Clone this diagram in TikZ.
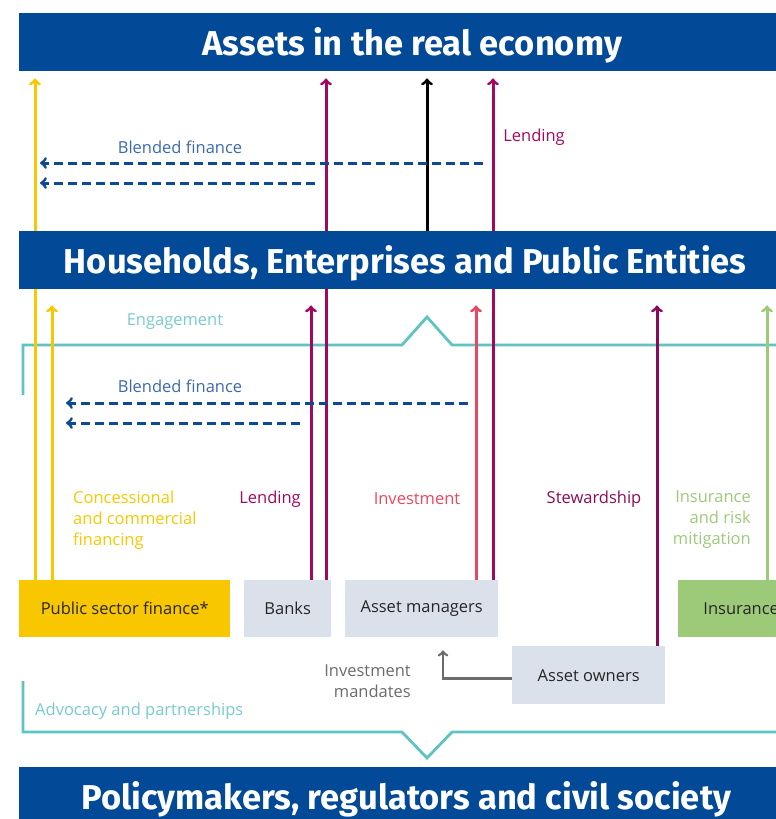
\documentclass[tikz,border=0pt]{standalone}
\usepackage{fontspec}
\setmainfont{Open Sans}
\newfontfamily\titlefont{Fira Sans}
\usetikzlibrary{calc}

\definecolor{bannerblue}{HTML}{024A97}
\definecolor{psyellow}{HTML}{F8C700}
\definecolor{lendmag}{HTML}{A1085F}
\definecolor{stewpurple}{HTML}{8B0A57}
\definecolor{invred}{HTML}{E9475F}
\definecolor{insgreen}{HTML}{9DCA79}
\definecolor{engteal}{HTML}{5EC3C1}
\definecolor{blendblue}{HTML}{0D4A96}
\definecolor{blendtext}{HTML}{3B69B0}
\definecolor{boxgrey}{HTML}{DAE1EA}
\definecolor{mandgrey}{HTML}{6B6B6B}

\begin{document}
\begin{tikzpicture}[x=1pt, y=-1pt,
    banner/.style={fill=bannerblue, text=white, minimum height=58pt, anchor=north west,
      inner sep=0pt, text height=29pt, text depth=3pt, font=\titlefont\bfseries\fontsize{34.5}{40}\selectfont},
    actor/.style={fill=boxgrey, text=black!85, minimum height=57pt, anchor=north west,
      inner sep=0pt, font=\fontsize{16.5}{20}\selectfont},
    lab/.style={inner sep=0pt, font=\fontsize{16.5}{21}\selectfont},
    flow/.style={line width=3pt, ->},
    blend/.style={blendblue, line width=3pt, dash pattern=on 9pt off 5pt, ->},
    engage/.style={engteal, line width=2.8pt, line join=miter}]
        \useasboundingbox (0,0) rectangle (776,819);
        \clip (0,0) rectangle (776,819);

        \node[banner, minimum width=786pt] (assets) at (19,13) {Assets in the real economy};
        \node[banner, minimum width=772pt] (hh) at (19,231) {Households, Enterprises and Public Entities};
        \node[banner, minimum width=774pt] (policy) at (19,767) {Policymakers, regulators and civil society};

        \node[actor, fill=psyellow, minimum width=211pt] (psf) at (19,580) {Public sector finance*};
        \node[actor, minimum width=87pt] (banks) at (244,580) {Banks};
        \node[actor, minimum width=153pt] (am) at (345,580) {Asset managers};
        \node[actor, fill=insgreen, minimum width=126pt] (ins) at (678,580) {Insurance};
        \node[actor, minimum width=153pt, minimum height=58pt] (ao) at (512,646) {Asset owners};

        \draw[engage] (23,395) -- (23,345) -- (402,345) -- (427,317) -- (452,345) -- (776,345);
        \draw[engage] (23,681) -- (23,732) -- (402,732) -- (427,758) -- (452,732) -- (776,732);

        \foreach \x/\col/\src in {35/psyellow/psf, 326/lendmag/banks, 493/lendmag/am} {
          \draw[flow, -, \col] (\x,0 |- \src.north) -- (\x,0 |- hh.south);
        }
        \foreach \x/\col/\src in {52/psyellow/psf, 311/lendmag/banks, 476/invred/am, 657/stewpurple/ao, 767/insgreen/ins} {
          \draw[flow, \col, shorten >=16pt] (\x,0 |- \src.north) -- (\x,0 |- hh.south);
        }
        \foreach \x/\col in {35/psyellow, 326/lendmag, 427/black, 493/lendmag} {
          \draw[flow, \col, shorten >=7pt] (\x,0 |- hh.north) -- (\x,0 |- assets.south);
        }

        \coordinate (bfa1) at (483,163); \coordinate (bfa2) at (315,183);
        \coordinate (bfb1) at (468,403); \coordinate (bfb2) at (300,423);
        \draw[blend] (bfa1) -- (40,0 |- bfa1);
        \draw[blend] (bfa2) -- (40,0 |- bfa2);
        \draw[blend] (bfb1) -- (66,0 |- bfb1);
        \draw[blend] (bfb2) -- (66,0 |- bfb2);

        \draw[mandgrey, line width=2.6pt, ->, shorten >=13pt] ([yshift=-3pt]ao.west) -| (443,0 |- am.south);

        \node[lab, text=blendtext] (bftop) at (180,147) {Blended finance};
        \node[lab, text=blendtext] (bfmid) at (180,386) {Blended finance};
        \node[lab, text=lendmag] (lendtop) at (534,137) {Lending};
        \node[lab, text=engteal!85] (eng) at (175,322) {Engagement};
        \node[lab, text=psyellow, align=left, anchor=west] (conc) at (73,520) {Concessional\\and commercial\\financing};
        \node[lab, text=lendmag] (lendmid) at (270,499) {Lending};
        \node[lab, text=invred] (inv) at (417,499) {Investment};
        \node[lab, text=stewpurple] (stew) at (594,499) {Stewardship};
        \node[lab, text=insgreen, align=right, anchor=east] (insr) at (751,520) {Insurance\\and risk\\mitigation};
        \node[lab, text=mandgrey, align=right, anchor=east] (mand) at (411,681) {Investment\\mandates};
        \node[lab, text=engteal!85, anchor=west] (adv) at (35,711) {Advocacy and partnerships};
      \end{tikzpicture}
\end{document}
